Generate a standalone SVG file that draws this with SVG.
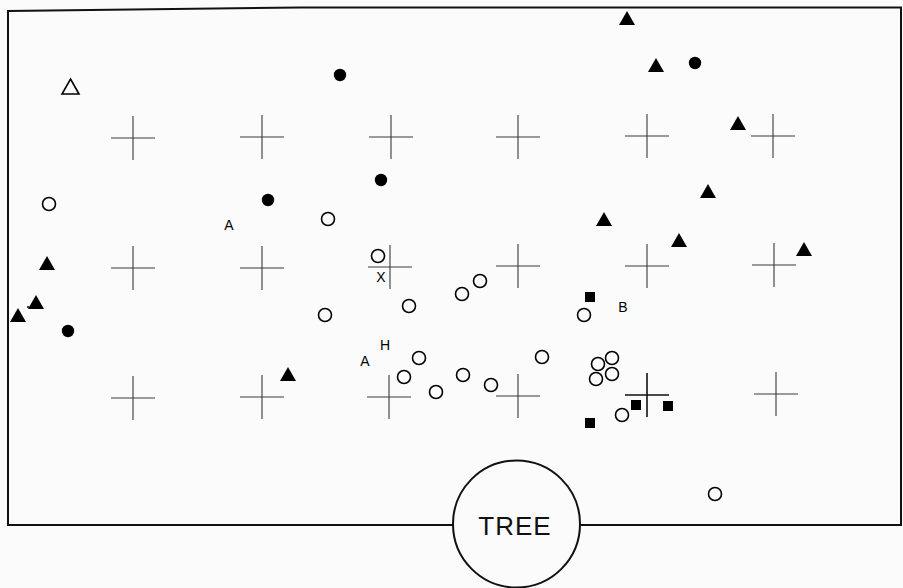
<svg xmlns="http://www.w3.org/2000/svg" width="903" height="588" viewBox="0 0 903 588">
<defs>
<style>
.frame{fill:none;stroke:#111;stroke-width:2}
.cross{stroke:#3a3a3a;stroke-width:1.1;fill:none}
.fc{fill:#000}
.oc{fill:none;stroke:#000;stroke-width:1.6}
.ft{fill:#000}
.ot{fill:none;stroke:#000;stroke-width:1.6;stroke-linejoin:miter}
.sq{fill:#000}
.lbl{font-family:"Liberation Sans",Arial,sans-serif;font-size:14px;fill:#000;text-anchor:middle}
.tree{font-family:"Liberation Sans",Arial,sans-serif;font-size:26px;fill:#111;text-anchor:middle;letter-spacing:1px}
</style>
<path id="cr" d="M-22,0H22M0,-22V22"/>
<circle id="oc" r="6.5"/>
<circle id="fc" r="6.2"/>
<path id="ft" d="M0,-7L8,7H-8Z"/>
<rect id="sq" x="-5" y="-5" width="10" height="10"/>
</defs>
<rect width="903" height="588" fill="#fbfbfb"/>
<g id="frame">
<path class="frame" d="M453,525H8V11L300,7.5H901V525H580"/>
</g>
<g id="grid">
<use href="#cr" class="cross" x="133" y="138"/>
<use href="#cr" class="cross" x="262" y="137"/>
<use href="#cr" class="cross" x="391" y="137"/>
<use href="#cr" class="cross" x="518" y="137"/>
<use href="#cr" class="cross" x="647" y="136"/>
<use href="#cr" class="cross" x="773" y="136"/>
<use href="#cr" class="cross" x="133" y="268"/>
<use href="#cr" class="cross" x="262" y="268"/>
<use href="#cr" class="cross" x="390" y="267"/>
<use href="#cr" class="cross" x="518" y="266"/>
<use href="#cr" class="cross" x="647" y="266"/>
<use href="#cr" class="cross" x="774" y="265"/>
<use href="#cr" class="cross" x="133" y="398"/>
<use href="#cr" class="cross" x="262" y="397"/>
<use href="#cr" class="cross" x="389" y="397"/>
<use href="#cr" class="cross" x="518" y="396"/>
<use href="#cr" class="cross" x="647" y="395" style="stroke-width:1.6;stroke:#111"/>
<use href="#cr" class="cross" x="776" y="394"/>
</g>
<g id="tree">
<circle cx="516.5" cy="524" r="63.5" fill="#fbfbfb" stroke="#111" stroke-width="2"/>
<text class="tree" x="515" y="535">TREE</text>
</g>
<g id="filled-circles">
<use href="#fc" class="fc" x="340" y="75"/>
<use href="#fc" class="fc" x="381" y="180"/>
<use href="#fc" class="fc" x="268" y="200"/>
<use href="#fc" class="fc" x="68" y="331"/>
<use href="#fc" class="fc" x="695" y="63"/>
</g>
<g id="open-circles">
<use href="#oc" class="oc" x="49" y="204"/>
<use href="#oc" class="oc" x="328" y="219"/>
<use href="#oc" class="oc" x="378" y="256"/>
<use href="#oc" class="oc" x="409" y="306"/>
<use href="#oc" class="oc" x="325" y="315"/>
<use href="#oc" class="oc" x="462" y="294"/>
<use href="#oc" class="oc" x="480" y="281"/>
<use href="#oc" class="oc" x="584" y="315"/>
<use href="#oc" class="oc" x="419" y="358"/>
<use href="#oc" class="oc" x="404" y="377"/>
<use href="#oc" class="oc" x="436" y="392"/>
<use href="#oc" class="oc" x="463" y="375"/>
<use href="#oc" class="oc" x="491" y="385"/>
<use href="#oc" class="oc" x="542" y="357"/>
<use href="#oc" class="oc" x="598" y="364"/>
<use href="#oc" class="oc" x="596" y="379"/>
<use href="#oc" class="oc" x="612" y="358"/>
<use href="#oc" class="oc" x="612" y="374"/>
<use href="#oc" class="oc" x="622" y="415"/>
<use href="#oc" class="oc" x="715" y="494"/>
</g>
<g id="open-triangle">
<path class="ot" d="M70.5,79L79,94H62Z"/>
</g>
<g id="filled-triangles">
<use href="#ft" class="ft" x="627" y="18"/>
<use href="#ft" class="ft" x="656" y="65"/>
<use href="#ft" class="ft" x="738" y="123"/>
<use href="#ft" class="ft" x="708" y="191"/>
<use href="#ft" class="ft" x="604" y="219"/>
<use href="#ft" class="ft" x="679" y="240"/>
<use href="#ft" class="ft" x="804" y="249"/>
<use href="#ft" class="ft" x="47" y="263"/>
<use href="#ft" class="ft" x="36" y="302"/>
<circle cx="28" cy="307" r="1" fill="#000"/>
<use href="#ft" class="ft" x="18" y="315"/>
<use href="#ft" class="ft" x="288" y="374"/>
</g>
<g id="squares">
<use href="#sq" class="sq" x="590" y="297"/>
<use href="#sq" class="sq" x="590" y="423"/>
<use href="#sq" class="sq" x="636" y="405"/>
<use href="#sq" class="sq" x="668" y="406"/>
</g>
<g id="labels">
<text class="lbl" x="229" y="230">A</text>
<text class="lbl" x="381" y="282">X</text>
<text class="lbl" x="385" y="350">H</text>
<text class="lbl" x="365" y="366">A</text>
<text class="lbl" x="623" y="312">B</text>
</g>
</svg>
